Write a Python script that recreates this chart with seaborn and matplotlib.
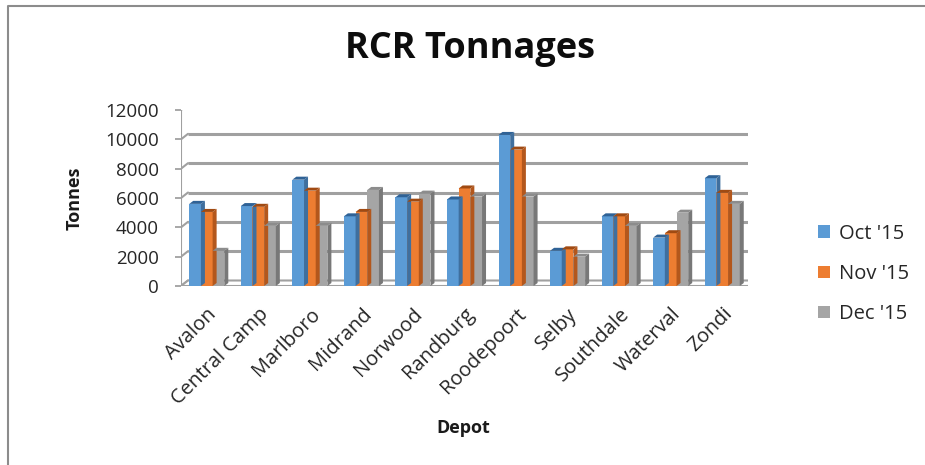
import numpy as np
import pandas as pd
import matplotlib
matplotlib.use("Agg")
import matplotlib.pyplot as plt
from matplotlib.patches import Polygon
from matplotlib.lines import Line2D
from matplotlib.patches import Patch
import seaborn as sns

# ---- data -------------------------------------------------------------
depots = ["Avalon", "Central Camp", "Marlboro", "Midrand", "Norwood", "Randburg",
          "Roodepoort", "Selby", "Southdale", "Waterval", "Zondi"]
months = ["Oct '15", "Nov '15", "Dec '15"]
oct_15 = [5600, 5450, 7250, 4750, 6050, 5900, 10300, 2400, 4750, 3300, 7350]
nov_15 = [5050, 5400, 6500, 5050, 5750, 6650, 9300, 2500, 4750, 3600, 6350]
dec_15 = [2400, 4100, 4100, 6550, 6300, 6100, 6100, 2000, 4100, 5000, 5600]
y_ticks = [0, 2000, 4000, 6000, 8000, 10000, 12000]

df = pd.DataFrame({
    "Depot": depots * 3,
    "Month": np.repeat(months, len(depots)),
    "Tonnes": oct_15 + nov_15 + dec_15,
})

front_cols = ["#5B9BD5", "#ED7D31", "#A5A5A5"]
side_cols = ["#3F6F9E", "#B3571C", "#787878"]
top_cols = ["#2F6296", "#A04A12", "#8C8C8C"]
grid_col = "#A0A0A0"
text_col = "#262626"

sns.set_theme(style="white")
plt.rcParams["font.family"] = ["Open Sans", "DejaVu Sans"]

W, H = 925, 465
fig = plt.figure(figsize=(W / 100, H / 100), dpi=100)
ax = fig.add_axes([181 / W, 1 - 286 / H, 567 / W, 176 / H])

sns.barplot(data=df, x="Depot", y="Tonnes", hue="Month", order=depots,
            hue_order=months, palette=front_cols, width=0.68, saturation=1,
            linewidth=0, ax=ax, legend=False, zorder=3)

ax.set_xlim(-0.5, len(depots) - 0.5)
ax.set_ylim(0, 12000)
for s in ax.spines.values():
    s.set_visible(False)
ax.set_facecolor("none")


def shift(x, y, dpx, dpy):
    """Move a data point by a pixel offset and return data coords."""
    d = ax.transData.transform((x, y)) + np.array([dpx, dpy])
    return tuple(ax.transData.inverted().transform(d))


# back wall depth and bar depth in pixels
WX, WY = 7, 5.5
BX, BY = 4, 3

x0, x1 = -0.5, len(depots) - 0.5
gl = dict(color=grid_col, lw=2.2, solid_capstyle="butt", zorder=1)

# back wall gridlines and left wall connectors
for v in y_ticks:
    a = shift(x0, v, WX, WY)
    b = shift(x1, v, WX, WY)
    if v > 0:
        ax.add_line(Line2D([a[0], b[0]], [a[1], b[1]], **gl))
    ax.add_line(Line2D([x0, a[0]], [v, a[1]], color=grid_col, lw=1.5, zorder=1))
# left front wall edge
ax.add_line(Line2D([x0, x0], [0, 12000], color=grid_col, lw=1.5, zorder=1))

# floor
fa = shift(x0, 0, WX, WY)
fb = shift(x1, 0, WX, WY)
floor = Polygon([(x0, 0), (x1, 0), fb, fa], closed=True, facecolor="white",
                edgecolor=grid_col, lw=1.5, zorder=2)
ax.add_patch(floor)

# tick marks on the value axis
ax.tick_params(axis="y", left=True, length=4, width=1.3, color=grid_col,
               labelsize=13.5, labelcolor=text_col, pad=12)
ax.set_yticks(y_ticks)
ax.set_yticklabels([str(v) for v in y_ticks])
ax.tick_params(axis="x", bottom=False, labelsize=14.5, labelcolor=text_col, pad=7)
for lab in ax.get_xticklabels():
    lab.set_rotation(45)
    lab.set_ha("right")
    lab.set_rotation_mode("anchor")

# side and top faces on every bar
bars = [p for p in ax.patches if p is not floor and p.get_height() > 0]
n = len(depots)
for i, p in enumerate(bars):
    k = i // n
    x, w, h = p.get_x(), p.get_width(), p.get_height()
    r0, r1 = (x + w, 0), (x + w, h)
    side = Polygon([r0, r1, shift(*r1, BX, BY), shift(*r0, BX, BY)],
                   closed=True, facecolor=side_cols[k], lw=0, zorder=3)
    l1 = (x, h)
    top = Polygon([l1, r1, shift(*r1, BX, BY), shift(*l1, BX, BY)],
                  closed=True, facecolor=top_cols[k], lw=0, zorder=3)
    ax.add_patch(side)
    ax.add_patch(top)

ax.set_xlabel("Depot", fontsize=13, fontweight="bold", color="#1a1a1a")
ax.xaxis.set_label_coords((463 - 181) / 567, -(419 - 286) / 176)
ax.set_ylabel("Tonnes", fontsize=13, fontweight="bold", color="#1a1a1a")
ax.yaxis.set_label_coords(-(181 - 84) / 567, (286 - 198) / 176)

fig.text(470 / W, 1 - 49 / H, "RCR Tonnages", ha="center", va="center",
         fontsize=26, fontweight="bold", color="#0d0d0d")

handles = [Patch(facecolor=c, edgecolor="none") for c in front_cols]
fig.legend(handles, months, loc="center left",
           bbox_to_anchor=(800 / W, 1 - 274 / H), frameon=False,
           fontsize=14.5, handlelength=0.6, handleheight=0.6,
           handletextpad=0.45, labelspacing=1.0, labelcolor=text_col)

# chart border
fig.add_artist(Line2D([8 / W, 8 / W, 1], [0, 1 - 6 / H, 1 - 6 / H],
                      transform=fig.transFigure, color="#8c8c8c", lw=1.5))

fig.savefig("out.png", dpi=100)
